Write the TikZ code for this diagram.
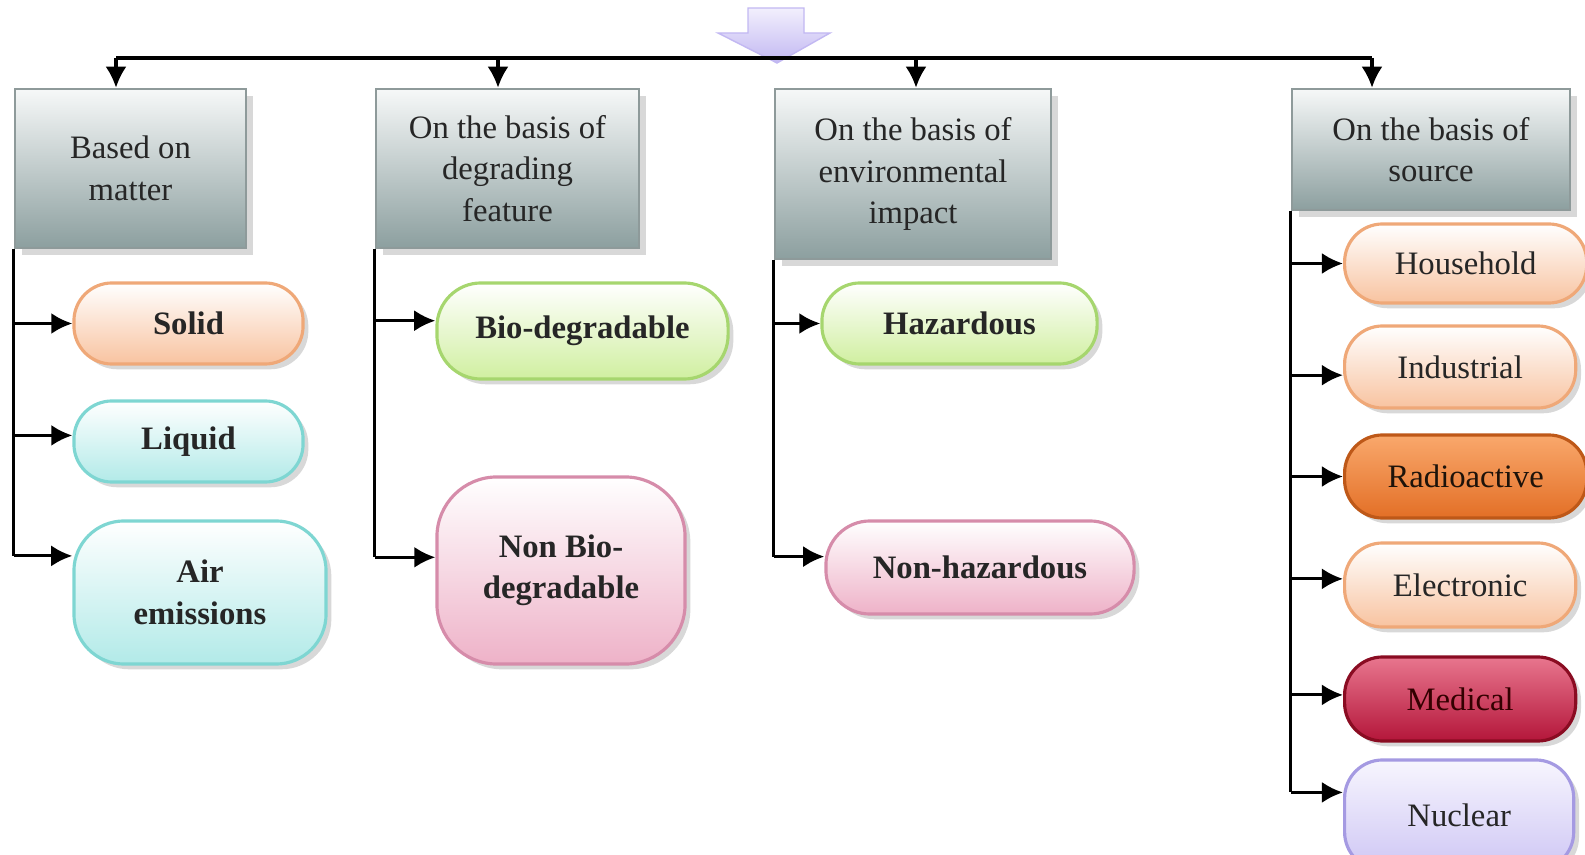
\documentclass[tikz,border=0pt]{standalone}
\usepackage{fontspec}
\setmainfont{Liberation Serif}
\usetikzlibrary{arrows.meta, shadows, positioning}

\newcommand{\labfont}{\fontsize{9.3}{11.8}\selectfont}

\definecolor{hdtop}{HTML}{F6F8F8}
\definecolor{hdbot}{HTML}{8C9F9F}
\definecolor{hdline}{HTML}{8E9A9A}
\definecolor{peachbot}{HTML}{F8C3A0}
\definecolor{peachline}{HTML}{EFA878}
\definecolor{cyanbot}{HTML}{B2EAE8}
\definecolor{cyanline}{HTML}{7ED6D2}
\definecolor{greenbot}{HTML}{D0EFA0}
\definecolor{greenline}{HTML}{A6D66E}
\definecolor{pinkbot}{HTML}{EEB2C8}
\definecolor{pinkline}{HTML}{D68CAA}
\definecolor{orangetop}{HTML}{F9A86C}
\definecolor{orangebot}{HTML}{E36F26}
\definecolor{orangeline}{HTML}{BE5818}
\definecolor{redtop}{HTML}{E8768E}
\definecolor{redbot}{HTML}{B4163A}
\definecolor{redline}{HTML}{8A0C22}
\definecolor{lavtop}{HTML}{F2EFFD}
\definecolor{lavbot}{HTML}{C2B8F2}
\definecolor{lavline}{HTML}{A59AE2}

\tikzset{
    header/.style={draw=hdline, line width=0.7pt, top color=hdtop, bottom color=hdbot,
        align=center, inner sep=0pt, font=\labfont, text=black!85,
        drop shadow={shadow xshift=2pt, shadow yshift=-2pt, fill=black!30}},
    pill/.style={rounded corners=0.38cm, line width=0.9pt, align=center, inner sep=0pt,
        font=\labfont\bfseries, text=black!85,
        drop shadow={shadow xshift=1.5pt, shadow yshift=-1.5pt, fill=black!30}},
    srcpill/.style={pill, font=\labfont\mdseries},
    peach/.style={draw=peachline, top color=white, bottom color=peachbot},
    aqua/.style={draw=cyanline, top color=white, bottom color=cyanbot},
    lime/.style={draw=greenline, top color=white, bottom color=greenbot},
    rose/.style={draw=pinkline, top color=white, bottom color=pinkbot},
    hot/.style={draw=orangeline, top color=orangetop, bottom color=orangebot, text=black!85!brown},
    blood/.style={draw=redline, top color=redtop, bottom color=redbot, text=black!80!red},
    lilac/.style={draw=lavline, top color=lavtop!60!white, bottom color=lavbot!80!white},
    trunk/.style={line width=0.9pt},
    feed/.style={line width=0.9pt, -{Latex[length=6pt, width=6pt]}},
}

\begin{document}
\begin{tikzpicture}[x=0.01cm, y=-0.01cm]
    \useasboundingbox (0,0) rectangle (1585,855);

    % incoming arrow at the top
    \draw[lavbot, line width=0.4pt, top color=lavtop, bottom color=lavbot]
        (748,8) -- (804,8) -- (804,33) -- (830,33) -- (777,63) -- (718,33) -- (748,33) -- cycle;

    % the four categories
    \node[header, minimum width=2.31cm, minimum height=1.59cm] (hdA) at (130.5,168.5)
        {Based on\\matter};
    \node[header, minimum width=2.63cm, minimum height=1.59cm] (hdB) at (507.5,168.5)
        {On the basis of\\degrading\\feature};
    \node[header, minimum width=2.76cm, minimum height=1.70cm] (hdC) at (913,174)
        {On the basis of\\environmental\\impact};
    \node[header, minimum width=2.78cm, minimum height=1.21cm] (hdD) at (1431,149.5)
        {On the basis of\\source};

    \coordinate (busA) at (116,58);
    \coordinate (busB) at (498,58);
    \coordinate (busC) at (916,58);
    \coordinate (busD) at (1372,58);

    \draw[trunk] (busA) -- (busD);
    \draw[feed] (busA) -- (busA |- hdA.north);
    \draw[feed] (busB) -- (busB |- hdB.north);
    \draw[feed] (busC) -- (busC |- hdC.north);
    \draw[feed] (busD) -- (busD |- hdD.north);

    % based on matter
    \node[pill, peach, minimum width=2.29cm, minimum height=0.81cm] (solid) at (188.5,323.5) {Solid};
    \node[pill, aqua, minimum width=2.29cm, minimum height=0.81cm] (liquid) at (188.5,441.5) {Liquid};
    \node[pill, aqua, rounded corners=0.5cm, minimum width=2.52cm, minimum height=1.43cm] (air)
        at (200,592.5) {Air\\emissions};

    \draw[trunk] (hdA.south west) -- (hdA.south west |- air.164);
    \draw[feed] (hdA.south west |- solid.west) -- (solid.west);
    \draw[feed] (hdA.south west |- liquid.177) -- (liquid.177);
    \draw[feed] (hdA.south west |- air.164) -- (air.164);

    % degrading feature
    \node[pill, lime, rounded corners=0.44cm, minimum width=2.91cm, minimum height=0.96cm] (bio)
        at (582.5,331) {Bio-degradable};
    \node[pill, rose, rounded corners=0.6cm, minimum width=2.48cm, minimum height=1.87cm] (nonbio)
        at (561,570.5) {Non Bio-\\degradable};

    \draw[trunk] (hdB.south west) -- (hdB.south west |- nonbio.174);
    \draw[feed] (hdB.south west |- bio.176) -- (bio.176);
    \draw[feed] (hdB.south west |- nonbio.174) -- (nonbio.174);

    % environmental impact
    \node[pill, lime, minimum width=2.75cm, minimum height=0.81cm] (haz) at (959.5,323.5) {Hazardous};
    \node[pill, rose, rounded corners=0.44cm, minimum width=3.08cm, minimum height=0.93cm] (nonhaz)
        at (980,567.5) {Non-hazardous};

    \draw[trunk] (hdC.south west) -- (hdC.south west |- nonhaz.176);
    \draw[feed] (hdC.south west |- haz.west) -- (haz.west);
    \draw[feed] (hdC.south west |- nonhaz.176) -- (nonhaz.176);

    % source
    \foreach \nm/\txt/\yc/\pw/\ph/\sty/\ang in {
        house/Household/263.5/2.42/0.79/peach/180,
        indus/Industrial/367/2.31/0.82/peach/184,
        radio/Radioactive/476.5/2.42/0.83/hot/180,
        elec/Electronic/585/2.31/0.84/peach/177,
        med/Medical/699/2.31/0.84/blood/178,
        nuc/Nuclear/815/2.29/1.10/lilac/169} {
        \node[srcpill, \sty, anchor=west, minimum width=\pw cm, minimum height=\ph cm] (\nm)
            at (1343,\yc) {\txt};
        \draw[feed] (hdD.south west |- \nm.\ang) -- (\nm.\ang);
    }
    \draw[trunk] (hdD.south west) -- (hdD.south west |- nuc.169);

\end{tikzpicture}
\end{document}
